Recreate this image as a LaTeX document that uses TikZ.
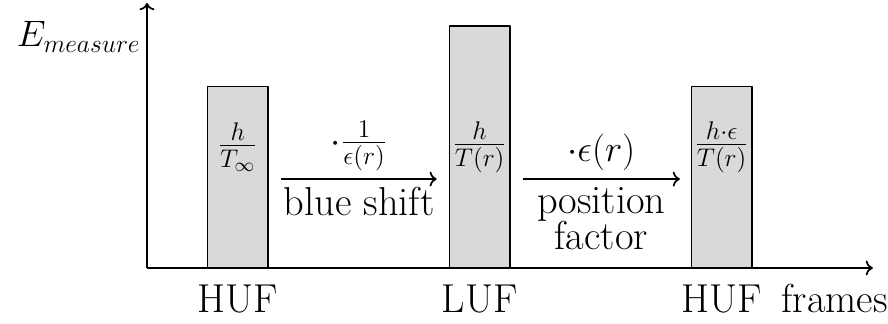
\documentclass[tikz,border=0pt]{standalone}
\usetikzlibrary{arrows.meta}

\begin{document}
\begin{tikzpicture}[
  font=\fontsize{19}{23}\selectfont,
  line join=round,
  axis/.style={draw=black,thick,->},
  bar/.style={draw=black,thick,fill=gray!30},
  shiftarrow/.style={draw=black,thick,->},
  framelabel/.style={anchor=base},
  mathlabel/.style={font=\fontsize{18}{22}\selectfont}
]
  \useasboundingbox (-2.43,-0.91) rectangle (12.25,4.43);

  % Axes.
  \coordinate (O) at (0,0);
  \coordinate (xend) at (12,0);
  \coordinate (yend) at (0,4.38);
  \draw[axis] (O) -- (xend);
  \draw[axis] (O) -- (yend);
  \node[left,font=\fontsize{18.7}{22}\selectfont] (elabel) at (0.02,3.82) {$E_{measure}$};

  % Energy bars per frame.
  \draw[bar] (1,0) rectangle (2,3);
  \draw[bar] (5,0) rectangle (6,4);
  \draw[bar] (9,0) rectangle (10,3);
  \node[mathlabel] (eHUF) at (1.5,2) {$\frac{h}{T_\infty}$};
  \node[mathlabel] (eLUF) at (5.5,2) {$\frac{h}{T(r)}$};
  \node[mathlabel] (eHUFb) at (9.5,2) {$\frac{h\cdot\epsilon}{T(r)}$};

  % Frame labels below the axis.
  \node[framelabel] (fHUF) at (1.5,-0.74) {HUF};
  \node[framelabel] (fLUF) at (5.5,-0.74) {LUF};
  \node[framelabel] (fHUFb) at (9.5,-0.74) {HUF};
  \node[framelabel] (frames) at (11.37,-0.74) {frames};

  % Transformations between the frames.
  \coordinate (s1a) at (2.22,1.47);
  \coordinate (s1b) at (4.79,1.47);
  \coordinate (s2a) at (6.21,1.47);
  \coordinate (s2b) at (8.81,1.47);
  \draw[shiftarrow] (s1a) -- (s1b)
    node[midway,above,mathlabel] (blueop) {$\cdot\frac{1}{\epsilon(r)}$}
    node[midway,below] (bluetext) {blue shift};
  \draw[shiftarrow] (s2a) -- (s2b)
    node[midway,above,mathlabel] (posop) {$\cdot\epsilon(r)$}
    node[midway,below,align=center] (postext) {position\\[-5.7pt]factor};
\end{tikzpicture}
\end{document}
